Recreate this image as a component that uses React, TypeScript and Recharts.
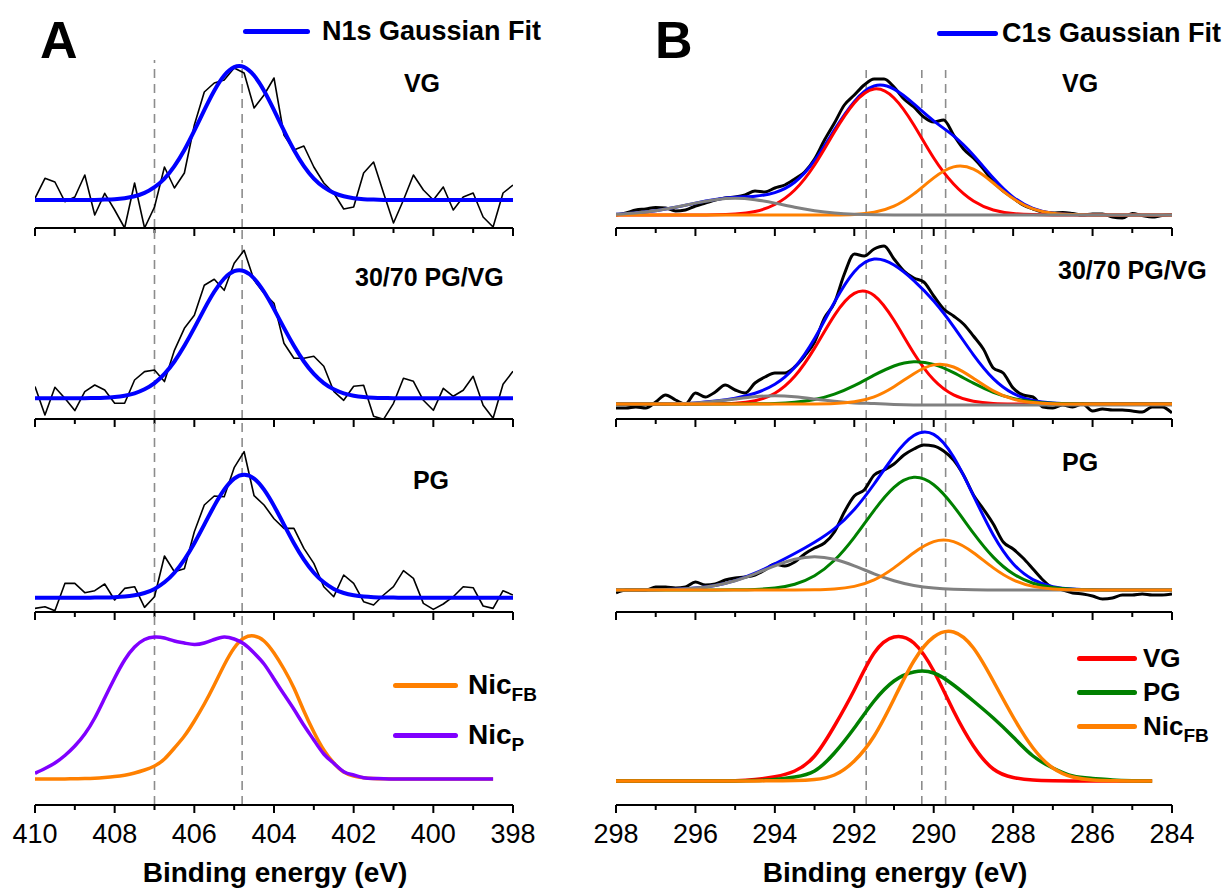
import React from 'react';
import { LineChart, Line, XAxis, YAxis, ReferenceLine } from 'recharts';

const FONT = '"Liberation Sans", Arial, Helvetica, sans-serif';

// N1s (panel A) energy grid, eV
const n1sEnergy = [
  410, 409.75, 409.5, 409.25, 409, 408.75, 408.5, 408.25, 408, 407.75, 407.5, 407.25, 407,
  406.75, 406.5, 406.25, 406, 405.75, 405.5, 405.25, 405, 404.75, 404.5, 404.25, 404,
  403.75, 403.5, 403.25, 403, 402.75, 402.5, 402.25, 402, 401.75, 401.5, 401.25, 401,
  400.75, 400.5, 400.25, 400, 399.75, 399.5, 399.25, 399, 398.75, 398.5, 398.25, 398,
];
const n1sTicks = [398, 399, 400, 401, 402, 403, 404, 405, 406, 407, 408, 409, 410];
const n1sMarkers = [407, 404.8];

// measured spectra + gaussian fits (intensity above baseline, arb. units)
const n1sVG = [1.7, 21.7, 18, -1.7, 3, 25, -15, 6.7, -10, -28, 17, -28, -7, 33, 12, 27, 75, 108, 117, 120, 132, 127, 92, 105, 122, 65, 50, 54, 33, 17, 7, -9, -7, 27, 38, 7, -23, 0, 25, 10, 0, 13, -10, 3, 7, -17, -27, 7, 15];
const n1sVGFit = [0, 0, 0, 0, 0, 0, 0.1, 0.4, 0.8, 1.8, 3.7, 7.1, 12.8, 21.4, 33.9, 50, 69.3, 89.9, 109.3, 124.5, 132.9, 132.9, 124.5, 109.3, 89.9, 69.3, 50, 33.9, 21.4, 12.8, 7.1, 3.7, 1.8, 0.8, 0.4, 0.1, 0, 0, 0, 0, 0, 0, 0, 0, 0, 0, 0, 0, 0];
const n1sMix = [11.7, -16.7, 11, 0, -12.3, 6.7, 13.3, 8.3, -5, -5, 18.3, 26.7, 28.3, 16.7, 48, 70, 83, 113, 119, 108, 135, 148, 118, 105, 95, 55, 40, 40, 42, 32, 7, -2, 12, 13, -18, -21, -5, 20, 17, -2, -12, 10, 2, 8, 22, -7, -20, 14, 27];
const n1sMixFit = [0, 0, 0, 0, 0, 0.1, 0.3, 0.6, 1.3, 2.6, 5, 9, 15.2, 24.4, 36.8, 52.5, 70.4, 89.2, 106.5, 119.8, 127.1, 127.1, 119.8, 106.5, 89.2, 70.4, 52.5, 36.8, 24.4, 15.2, 9, 5, 2.6, 1.3, 0.6, 0.3, 0.1, 0, 0, 0, 0, 0, 0, 0, 0, 0, 0, 0, 0];
const n1sPG = [-10.7, -9, -13, 14.3, 14.3, 5, 7, 13.7, -2.3, 9.3, 11, -9.7, 1, 41.7, 26, 29, 66, 92.7, 101.7, 101, 130, 146, 102, 92.7, 79, 69.3, 69.3, 49.3, 34.3, 11, 1, 22.7, 14.3, -4, -7.3, 2.7, 11, 27, 19.3, -5.7, -11.7, -6.3, 1, 11, 10, -8.3, -10.7, 7, 2.7];
const n1sPGFit = [0, 0, 0, 0, 0, 0, 0.1, 0.2, 0.5, 1.1, 2.4, 4.7, 8.8, 15.4, 25, 38.1, 54.5, 73.1, 91.8, 108, 119.1, 123, 119.1, 108, 91.8, 73.1, 54.5, 38.1, 25, 15.4, 8.8, 4.7, 2.4, 1.1, 0.5, 0.2, 0.1, 0, 0, 0, 0, 0, 0, 0, 0, 0, 0, 0, 0];
const nicFB = [0, 0, 0, 0.1, 0.2, 0.4, 0.8, 1.5, 2.4, 3.8, 6, 9, 13, 20, 31, 43, 58, 75, 94, 114, 131, 141, 143, 138, 126, 110, 91, 68, 47, 29, 16, 7, 3, 1.3, 0.5, 0.2, 0, 0, 0, 0, 0, 0, 0, 0, 0, 0, 0, null, null];
const nicP = [5.7, 10.5, 16, 23.5, 33, 45, 61, 81, 101, 119, 132, 139.5, 142, 141, 138, 136, 134.5, 136, 139.5, 142, 140, 135, 126, 115, 100, 84.7, 69.7, 53.7, 39, 25, 15.7, 7.3, 4, 1.3, 0.5, 0.2, 0, 0, 0, 0, 0, 0, 0, 0, 0, 0, 0, null, null];

// C1s (panel B) grids, eV
const c1sEnergyFine = [
  298, 297.75, 297.5, 297.25, 297, 296.75, 296.5, 296.25, 296, 295.75, 295.5, 295.25, 295,
  294.75, 294.5, 294.25, 294, 293.75, 293.5, 293.25, 293, 292.75, 292.5, 292.25, 292,
  291.75, 291.5, 291.25, 291, 290.75, 290.5, 290.25, 290, 289.75, 289.5, 289.25, 289,
  288.75, 288.5, 288.25, 288, 287.75, 287.5, 287.25, 287, 286.75, 286.5, 286.25, 286,
  285.75, 285.5, 285.25, 285, 284.75, 284.5, 284.25, 284,
];
const c1sEnergy = [
  298, 297.5, 297, 296.5, 296, 295.5, 295, 294.5, 294, 293.5, 293, 292.5, 292, 291.5, 291,
  290.5, 290, 289.5, 289, 288.5, 288, 287.5, 287, 286.5, 286, 285.5, 285, 284.5, 284,
];
const c1sTicks = [284, 285, 286, 287, 288, 289, 290, 291, 292, 293, 294, 295, 296, 297, 298];
const c1sMarkers = [291.7, 290.3, 289.7];

// VG
const c1sVG = [0, 2, 5, 6, 7.5, 7, 4, 5, 9, 12, 15, 17, 18, 20, 24, 23, 27, 30, 36, 43, 56, 75, 92, 110, 120, 130, 136, 136, 128, 116, 108, 98, 93, 95, 80, 66, 57, 46, 33, 24, 17, 10, 6, 3, 2, 2.5, 1.5, 0, 1, 1, -2, -3, 1.5, -0.5, -2, -0.5, 0.5];
const c1sVGFit = [0.8, 2, 4.3, 7.7, 11.9, 15.5, 17.7, 18.8, 22.4, 32.7, 54.3, 85.1, 113.4, 129, 125.9, 111.1, 94.1, 79.1, 59.8, 37, 17.9, 6.6, 1.7, 0.4, 0, 0, 0, 0, 0];
const c1sVGRed = [0, 0, 0, 0, 0, 0.2, 1, 3.5, 10.5, 25, 50, 83, 112, 126, 117, 90, 57, 31, 14, 5, 1.5, 0.4, 0, 0, 0, 0, 0, 0, 0];
const c1sVGOrange = [0, 0, 0, 0, 0, 0, 0, 0, 0, 0, 0, 0.1, 0.6, 2.7, 8.8, 21.1, 37.1, 48.1, 45.8, 32, 16.4, 6.2, 1.7, 0.4, 0, 0, 0, 0, 0];
const c1sVGGray = [0.8, 2, 4.3, 7.7, 11.9, 15.3, 16.7, 15.3, 11.9, 7.7, 4.3, 2, 0.8, 0.3, 0.1, 0, 0, 0, 0, 0, 0, 0, 0, 0, 0, 0, 0, 0, 0];

// 30/70 PG/VG
const c1sMix = [-4, -4, -3, -4, 2, 9, 4, 0, 11, 7, 12, 19, 14, 11, 21, 27, 31, 31, 37, 48, 62, 86, 101, 130, 150, 148, 155, 158, 145, 133, 126, 122, 108, 95, 88, 80, 68, 55, 36, 31, 16, 9, 7, -3, -4, -1, -3, 0, -7, -5, -6, -6, -7, -8, -3, -3, -9];
const c1sMixFit = [0, 0, 0.1, 0.4, 1.1, 2.9, 5.8, 10.8, 19.7, 36.7, 65.5, 101.8, 132.3, 144.9, 139, 123.4, 102.9, 77.4, 49.2, 25.4, 10.6, 3.6, 1, 0.2, 0, 0, 0, 0, 0];
const c1sMixRed = [0, 0, 0, 0, 0, 0.2, 0.8, 3.3, 10.8, 27.7, 55.9, 88.7, 110.6, 108.5, 83.7, 50.8, 24.2, 9.1, 2.7, 0.6, 0.1, 0, 0, 0, 0, 0, 0, 0, 0];
const c1sMixGreen = [0, 0, 0, 0, 0, 0, 0, 0.2, 0.6, 1.7, 4.5, 9.9, 18.4, 28.8, 38, 42.3, 39.6, 31.3, 20.8, 11.7, 5.6, 2.2, 0.7, 0.2, 0, 0, 0, 0, 0];
const c1sMixOrange = [0, 0, 0, 0, 0, 0, 0, 0, 0, 0, 0.1, 0.5, 2.2, 7.2, 17.3, 30.3, 39.1, 37, 25.7, 13.1, 4.9, 1.4, 0.3, 0, 0, 0, 0, 0, 0];
const c1sMixGray = [0, 0, 0.1, 0.4, 1.1, 2.7, 5, 7.3, 8.3, 7.3, 5, 2.7, 1.1, 0.4, -0.5, -1, -1, -1, -1, -1, -1, -1, -1, -1, -1, -1, -1, -1, -1];

// PG
const c1sPG = [-3, 0, 0, 0, 3, 3, 2, 3, 8, 5, 6, 10, 12, 13, 15, 20, 26, 24, 28, 36, 42, 47, 58, 78, 94, 100, 115, 120, 126, 135, 141, 145, 144, 139, 130, 115, 95, 81, 66, 48, 41, 32, 21, 10, 2, 0, -3, -4, -6, -9, -8, -5, -5, -4, -5, -5, -4];
const c1sPGFit = [0, 0.1, 0.2, 0.7, 1.9, 4.5, 9.4, 16.8, 26.2, 36.5, 47.8, 61.4, 80.5, 106, 134, 154.5, 155.6, 133, 94.4, 55.1, 26.3, 10.4, 3.4, 0.9, 0.2, 0, 0, 0, 0];
const c1sPGGreen = [0, 0, 0, 0, 0, 0, 0.2, 0.6, 2, 5.8, 14.3, 29.7, 52.7, 79.7, 102.7, 112.7, 105.3, 83.9, 56.9, 32.9, 16.2, 6.8, 2.4, 0.7, 0.2, 0, 0, 0, 0];
const c1sPGOrange = [0, 0, 0, 0, 0, 0, 0, 0, 0, 0, 0.2, 1, 3.6, 10.1, 22.1, 37.3, 48.4, 48.4, 37.3, 22.1, 10.1, 3.6, 1, 0.2, 0, 0, 0, 0, 0];
const c1sPGGray = [0, 0.1, 0.2, 0.7, 1.9, 4.5, 9.2, 16.2, 24.2, 30.7, 33.3, 30.7, 24.2, 16.2, 9.2, 4.5, 1.9, 0.7, 0.2, 0.1, 0, 0, 0, 0, 0, 0, 0, 0, 0];

// reference components
const refVG = [0, 0, 0, 0, 0, 0, 0.3, 1.5, 4.3, 10, 25, 55, 91, 128, 144, 138, 110, 70, 35, 12, 3.5, 1, 0.3, 0, 0, 0, 0, 0, null];
const refPG = [0, 0, 0, 0, 0, 0, 0.1, 0.5, 1.5, 4, 10, 28, 53, 80, 100, 109, 108, 96, 80, 63, 44, 25, 13, 5, 2.5, 1, 0.3, 0, null];
const refNicFB = [0, 0, 0, 0, 0, 0, 0, 0, 0.3, 0.5, 1.5, 6, 20, 45, 82, 120, 144, 149, 133, 100, 64, 33, 13, 4, 1, 0.3, 0, 0, null];

const BLUE = '#0000ff';
const RED = '#ff0000';
const GREEN = '#008000';
const ORANGE = '#ff8000';
const GRAY = '#808080';
const PURPLE = '#8000ff';

type Curve = {
  x: number[];
  y: (number | null)[];
  color: string;
  width: number;
  kind?: 'linear' | 'monotone' | 'natural';
};

const PAD = 40;

const renderTick = (props: any, showLabel: boolean) => {
  const { x, y, payload } = props;
  const major = payload.value % 2 === 0;
  return (
    <g>
      <line x1={x} x2={x} y1={y} y2={y + (major ? 8 : 5)} stroke="#000" strokeWidth={2} />
      {showLabel && major ? (
        <text x={x} y={y + 38} textAnchor="middle" fontSize={27} fontFamily={FONT} fill="#000">
          {payload.value}
        </text>
      ) : null}
    </g>
  );
};

function Panel(props: {
  left: number;
  width: number;
  top: number;
  bottom: number;
  xDomain: [number, number];
  ticks: number[];
  yDomain: [number, number];
  markers: number[];
  curves: Curve[];
  showLabels?: boolean;
}) {
  const { left, width, top, bottom, xDomain, ticks, yDomain, markers, curves, showLabels } = props;
  const axisH = showLabels ? 80 : 12;
  return (
    <div style={{ position: 'absolute', left: left - PAD, top }}>
      <LineChart
        width={width + PAD * 2}
        height={bottom - top + axisH}
        margin={{ top: 0, right: PAD, bottom: 0, left: PAD }}
      >
        <XAxis
          type="number"
          dataKey="x"
          domain={xDomain}
          reversed
          ticks={ticks}
          interval={0}
          tickLine={false}
          tickSize={0}
          tickMargin={0}
          tick={(p: any) => renderTick(p, !!showLabels)}
          axisLine={{ stroke: '#000', strokeWidth: 2 }}
          height={axisH}
          allowDataOverflow
        />
        <YAxis hide type="number" domain={yDomain} allowDataOverflow />
        {markers.map((m) => (
          <ReferenceLine key={m} x={m} stroke="#8c8c8c" strokeWidth={1.6} strokeDasharray="9 6" />
        ))}
        {curves.map((c, i) => (
          <Line
            key={i}
            data={c.x.map((x, j) => ({ x, y: c.y[j] }))}
            dataKey="y"
            type={c.kind || 'natural'}
            stroke={c.color}
            strokeWidth={c.width}
            strokeLinejoin="round"
            dot={false}
            activeDot={false}
            isAnimationActive={false}
          />
        ))}
      </LineChart>
    </div>
  );
}

const Txt = (p: { x: number; y: number; size: number; bold?: boolean; anchor?: 'left' | 'center'; children: React.ReactNode }) => (
  <div
    style={{
      position: 'absolute',
      left: p.x,
      top: p.y,
      transform: p.anchor === 'center' ? 'translate(-50%, -50%)' : 'translate(0, -50%)',
      fontSize: p.size,
      lineHeight: 1,
      fontWeight: p.bold ? 700 : 400,
      fontFamily: FONT,
      whiteSpace: 'nowrap',
      color: '#000',
    }}
  >
    {p.children}
  </div>
);

const Swatch = (p: { x: number; y: number; w: number; color: string }) => (
  <div style={{ position: 'absolute', left: p.x, top: p.y - 2.5, width: p.w, height: 5, background: p.color, borderRadius: 2.5 }} />
);

const Sub = (p: { children: React.ReactNode }) => (
  <span style={{ fontSize: 19, position: 'relative', top: 7 }}>{p.children}</span>
);

const L = { left: 35, width: 478 };
const R = { left: 616, width: 556 };

export default function App() {
  const n = n1sEnergy;
  const cf = c1sEnergyFine;
  const c = c1sEnergy;
  return (
    <div style={{ position: 'absolute', left: 0, top: 0, width: 1225, height: 888, background: '#fff', overflow: 'hidden' }}>
      {/* panel A */}
      <Panel {...L} top={60} bottom={228} xDomain={[398, 410]} ticks={n1sTicks} yDomain={[-28, 140]} markers={n1sMarkers}
        curves={[
          { x: n, y: n1sVG, color: '#000', width: 1.6, kind: 'linear' },
          { x: n, y: n1sVGFit, color: BLUE, width: 4 },
        ]} />
      <Panel {...L} top={228} bottom={419} xDomain={[398, 410]} ticks={n1sTicks} yDomain={[-20.7, 170.3]} markers={n1sMarkers}
        curves={[
          { x: n, y: n1sMix, color: '#000', width: 1.6, kind: 'linear' },
          { x: n, y: n1sMixFit, color: BLUE, width: 4 },
        ]} />
      <Panel {...L} top={419} bottom={612} xDomain={[398, 410]} ticks={n1sTicks} yDomain={[-14.3, 178.7]} markers={n1sMarkers}
        curves={[
          { x: n, y: n1sPG, color: '#000', width: 1.6, kind: 'linear' },
          { x: n, y: n1sPGFit, color: BLUE, width: 4 },
        ]} />
      <Panel {...L} top={612} bottom={805} xDomain={[398, 410]} ticks={n1sTicks} yDomain={[-26, 167]} markers={n1sMarkers} showLabels
        curves={[
          { x: n, y: nicFB, color: ORANGE, width: 3.5 },
          { x: n, y: nicP, color: PURPLE, width: 3.5 },
        ]} />

      {/* panel B */}
      <Panel {...R} top={70} bottom={228} xDomain={[284, 298]} ticks={c1sTicks} yDomain={[-13, 145]} markers={c1sMarkers}
        curves={[
          { x: cf, y: c1sVG, color: '#000', width: 3, kind: 'monotone' },
          { x: c, y: c1sVGFit, color: BLUE, width: 3 },
          { x: c, y: c1sVGRed, color: RED, width: 3 },
          { x: c, y: c1sVGOrange, color: ORANGE, width: 3 },
          { x: c, y: c1sVGGray, color: GRAY, width: 3 },
        ]} />
      <Panel {...R} top={228} bottom={419} xDomain={[284, 298]} ticks={c1sTicks} yDomain={[-15, 176]} markers={c1sMarkers}
        curves={[
          { x: cf, y: c1sMix, color: '#000', width: 3, kind: 'monotone' },
          { x: c, y: c1sMixFit, color: BLUE, width: 3 },
          { x: c, y: c1sMixRed, color: RED, width: 3 },
          { x: c, y: c1sMixGreen, color: GREEN, width: 3 },
          { x: c, y: c1sMixGray, color: GRAY, width: 3 },
          { x: c, y: c1sMixOrange, color: ORANGE, width: 3 },
        ]} />
      <Panel {...R} top={419} bottom={612} xDomain={[284, 298]} ticks={c1sTicks} yDomain={[-22, 171]} markers={c1sMarkers}
        curves={[
          { x: cf, y: c1sPG, color: '#000', width: 3, kind: 'monotone' },
          { x: c, y: c1sPGFit, color: BLUE, width: 3 },
          { x: c, y: c1sPGGreen, color: GREEN, width: 3 },
          { x: c, y: c1sPGGray, color: GRAY, width: 3 },
          { x: c, y: c1sPGOrange, color: ORANGE, width: 3 },
        ]} />
      <Panel {...R} top={612} bottom={805} xDomain={[284, 298]} ticks={c1sTicks} yDomain={[-24, 169]} markers={c1sMarkers} showLabels
        curves={[
          { x: c, y: refVG, color: RED, width: 3.5 },
          { x: c, y: refPG, color: GREEN, width: 3.5 },
          { x: c, y: refNicFB, color: ORANGE, width: 3.5 },
        ]} />

      {/* headings and legends */}
      <Txt x={40} y={40} size={52} bold>A</Txt>
      <Swatch x={243} y={31} w={67} color={BLUE} />
      <Txt x={322} y={31} size={27} bold>N1s Gaussian Fit</Txt>
      <Txt x={655} y={40} size={52} bold>B</Txt>
      <Swatch x={937} y={33} w={61} color={BLUE} />
      <Txt x={1002} y={33} size={27} bold>C1s Gaussian Fit</Txt>

      <Txt x={422} y={83} size={25} bold anchor="center">VG</Txt>
      <Txt x={355} y={277} size={25} bold>30/70 PG/VG</Txt>
      <Txt x={431} y={480} size={25} bold anchor="center">PG</Txt>
      <Txt x={1062} y={83} size={25} bold>VG</Txt>
      <Txt x={1058} y={270} size={25} bold>30/70 PG/VG</Txt>
      <Txt x={1062} y={462} size={25} bold>PG</Txt>

      <Swatch x={393} y={685} w={65} color={ORANGE} />
      <Txt x={468} y={685} size={28} bold>Nic<Sub>FB</Sub></Txt>
      <Swatch x={393} y={735} w={65} color={PURPLE} />
      <Txt x={468} y={735} size={28} bold>Nic<Sub>P</Sub></Txt>

      <Swatch x={1077} y={658} w={60} color={RED} />
      <Txt x={1143} y={658} size={26} bold>VG</Txt>
      <Swatch x={1077} y={692} w={60} color={GREEN} />
      <Txt x={1143} y={692} size={26} bold>PG</Txt>
      <Swatch x={1077} y={726} w={60} color={ORANGE} />
      <Txt x={1143} y={726} size={26} bold>Nic<Sub>FB</Sub></Txt>

      <Txt x={275} y={873} size={28} bold anchor="center">Binding energy (eV)</Txt>
      <Txt x={895} y={873} size={28} bold anchor="center">Binding energy (eV)</Txt>
    </div>
  );
}
